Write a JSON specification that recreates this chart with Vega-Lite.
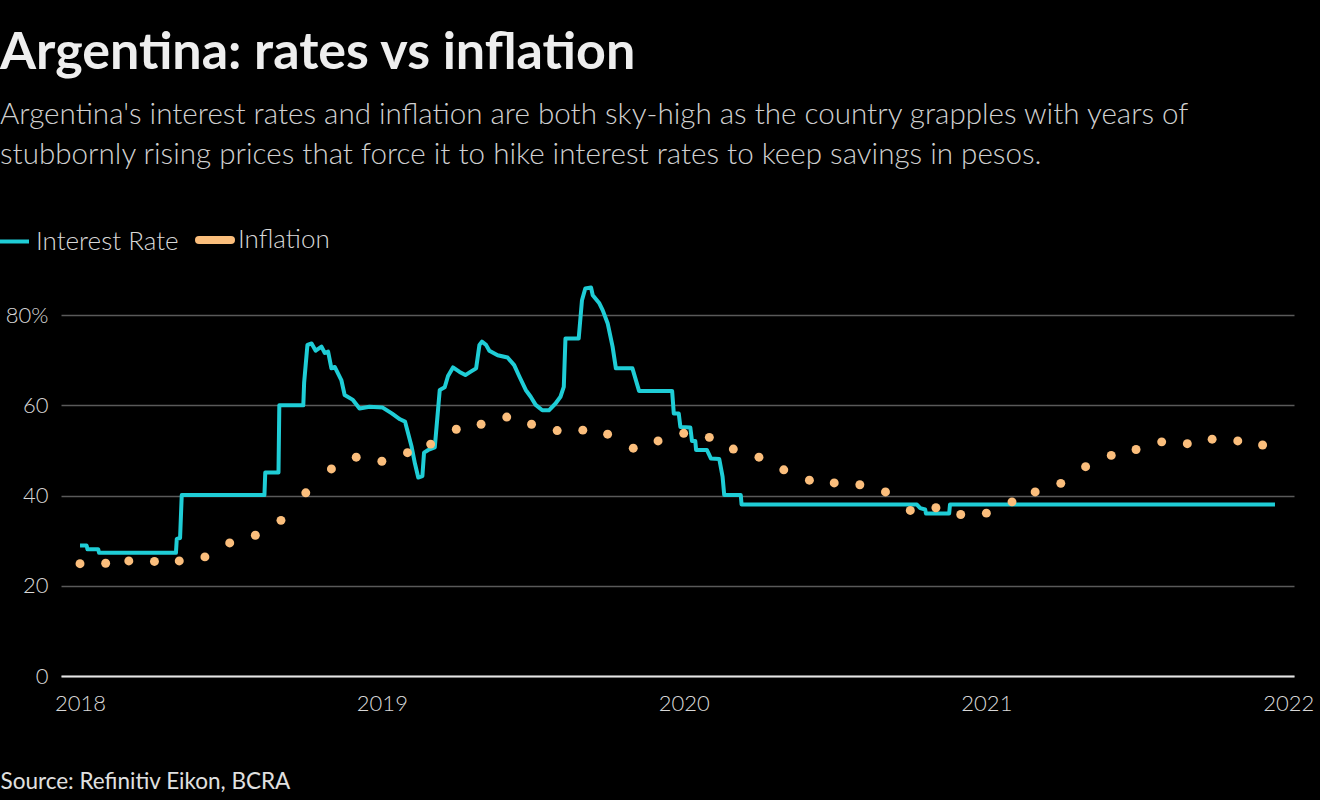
{
  "$schema": "https://vega.github.io/schema/vega-lite/v6.json",
  "width": 1233,
  "height": 397,
  "autosize": {"type": "none"},
  "padding": {"left": 61, "top": 279, "right": 26, "bottom": 124},
  "background": "#000000",
  "title": {
    "text": "Argentina: rates vs inflation",
    "subtitle": ["Argentina's interest rates and inflation are both sky-high as the country grapples with years of", "stubbornly rising prices that force it to hike interest rates to keep savings in pesos."],
    "anchor": "start",
    "frame": "group",
    "dx": -61,
    "offset": 56,
    "font": "Lato",
    "fontSize": 52,
    "fontWeight": "bold",
    "color": "#eeeeee",
    "subtitleFont": "Lato",
    "subtitleFontSize": 29.6,
    "subtitleFontWeight": 300,
    "subtitleColor": "#d0d0d0",
    "subtitlePadding": 21,
    "subtitleLineHeight": 40
  },
  "config": {
    "view": {"stroke": null},
    "font": "Lato"
  },
  "data": {
    "values": [
      {"date": "2018-01-01", "value": 28.9, "series": "Interest Rate"},
      {"date": "2018-01-09", "value": 28.9, "series": "Interest Rate"},
      {"date": "2018-01-10", "value": 28.1, "series": "Interest Rate"},
      {"date": "2018-01-23", "value": 28.1, "series": "Interest Rate"},
      {"date": "2018-01-24", "value": 27.3, "series": "Interest Rate"},
      {"date": "2018-04-27", "value": 27.3, "series": "Interest Rate"},
      {"date": "2018-04-28", "value": 30.4, "series": "Interest Rate"},
      {"date": "2018-05-02", "value": 30.6, "series": "Interest Rate"},
      {"date": "2018-05-04", "value": 40.1, "series": "Interest Rate"},
      {"date": "2018-08-12", "value": 40.1, "series": "Interest Rate"},
      {"date": "2018-08-13", "value": 45.1, "series": "Interest Rate"},
      {"date": "2018-08-29", "value": 45.1, "series": "Interest Rate"},
      {"date": "2018-08-30", "value": 60.0, "series": "Interest Rate"},
      {"date": "2018-09-28", "value": 60.0, "series": "Interest Rate"},
      {"date": "2018-09-29", "value": 65.0, "series": "Interest Rate"},
      {"date": "2018-10-03", "value": 73.4, "series": "Interest Rate"},
      {"date": "2018-10-08", "value": 73.7, "series": "Interest Rate"},
      {"date": "2018-10-13", "value": 72.1, "series": "Interest Rate"},
      {"date": "2018-10-20", "value": 73.0, "series": "Interest Rate"},
      {"date": "2018-10-24", "value": 71.6, "series": "Interest Rate"},
      {"date": "2018-10-28", "value": 71.9, "series": "Interest Rate"},
      {"date": "2018-11-01", "value": 68.2, "series": "Interest Rate"},
      {"date": "2018-11-05", "value": 68.5, "series": "Interest Rate"},
      {"date": "2018-11-13", "value": 65.6, "series": "Interest Rate"},
      {"date": "2018-11-17", "value": 62.3, "series": "Interest Rate"},
      {"date": "2018-11-27", "value": 61.2, "series": "Interest Rate"},
      {"date": "2018-12-05", "value": 59.3, "series": "Interest Rate"},
      {"date": "2018-12-17", "value": 59.7, "series": "Interest Rate"},
      {"date": "2019-01-02", "value": 59.5, "series": "Interest Rate"},
      {"date": "2019-01-13", "value": 58.2, "series": "Interest Rate"},
      {"date": "2019-01-23", "value": 56.9, "series": "Interest Rate"},
      {"date": "2019-01-29", "value": 56.4, "series": "Interest Rate"},
      {"date": "2019-02-06", "value": 50.8, "series": "Interest Rate"},
      {"date": "2019-02-10", "value": 47.1, "series": "Interest Rate"},
      {"date": "2019-02-14", "value": 44.0, "series": "Interest Rate"},
      {"date": "2019-02-19", "value": 44.3, "series": "Interest Rate"},
      {"date": "2019-02-21", "value": 49.5, "series": "Interest Rate"},
      {"date": "2019-02-26", "value": 50.1, "series": "Interest Rate"},
      {"date": "2019-03-06", "value": 50.7, "series": "Interest Rate"},
      {"date": "2019-03-12", "value": 63.4, "series": "Interest Rate"},
      {"date": "2019-03-18", "value": 64.0, "series": "Interest Rate"},
      {"date": "2019-03-22", "value": 66.5, "series": "Interest Rate"},
      {"date": "2019-03-28", "value": 68.4, "series": "Interest Rate"},
      {"date": "2019-04-05", "value": 67.4, "series": "Interest Rate"},
      {"date": "2019-04-12", "value": 66.7, "series": "Interest Rate"},
      {"date": "2019-04-18", "value": 67.4, "series": "Interest Rate"},
      {"date": "2019-04-25", "value": 68.2, "series": "Interest Rate"},
      {"date": "2019-04-29", "value": 73.4, "series": "Interest Rate"},
      {"date": "2019-05-02", "value": 74.1, "series": "Interest Rate"},
      {"date": "2019-05-07", "value": 73.4, "series": "Interest Rate"},
      {"date": "2019-05-11", "value": 72.1, "series": "Interest Rate"},
      {"date": "2019-05-21", "value": 71.1, "series": "Interest Rate"},
      {"date": "2019-06-02", "value": 70.6, "series": "Interest Rate"},
      {"date": "2019-06-10", "value": 68.9, "series": "Interest Rate"},
      {"date": "2019-06-16", "value": 66.5, "series": "Interest Rate"},
      {"date": "2019-06-24", "value": 63.4, "series": "Interest Rate"},
      {"date": "2019-06-30", "value": 61.9, "series": "Interest Rate"},
      {"date": "2019-07-06", "value": 60.1, "series": "Interest Rate"},
      {"date": "2019-07-14", "value": 58.9, "series": "Interest Rate"},
      {"date": "2019-07-22", "value": 58.9, "series": "Interest Rate"},
      {"date": "2019-07-30", "value": 60.4, "series": "Interest Rate"},
      {"date": "2019-08-05", "value": 61.9, "series": "Interest Rate"},
      {"date": "2019-08-09", "value": 64.1, "series": "Interest Rate"},
      {"date": "2019-08-11", "value": 74.8, "series": "Interest Rate"},
      {"date": "2019-08-27", "value": 74.8, "series": "Interest Rate"},
      {"date": "2019-08-31", "value": 83.3, "series": "Interest Rate"},
      {"date": "2019-09-04", "value": 85.9, "series": "Interest Rate"},
      {"date": "2019-09-11", "value": 86.1, "series": "Interest Rate"},
      {"date": "2019-09-13", "value": 84.4, "series": "Interest Rate"},
      {"date": "2019-09-21", "value": 82.6, "series": "Interest Rate"},
      {"date": "2019-09-25", "value": 81.1, "series": "Interest Rate"},
      {"date": "2019-10-01", "value": 78.2, "series": "Interest Rate"},
      {"date": "2019-10-07", "value": 73.0, "series": "Interest Rate"},
      {"date": "2019-10-11", "value": 68.2, "series": "Interest Rate"},
      {"date": "2019-10-31", "value": 68.2, "series": "Interest Rate"},
      {"date": "2019-11-08", "value": 63.2, "series": "Interest Rate"},
      {"date": "2019-12-18", "value": 63.2, "series": "Interest Rate"},
      {"date": "2019-12-20", "value": 58.2, "series": "Interest Rate"},
      {"date": "2019-12-26", "value": 58.2, "series": "Interest Rate"},
      {"date": "2019-12-28", "value": 55.2, "series": "Interest Rate"},
      {"date": "2020-01-09", "value": 55.1, "series": "Interest Rate"},
      {"date": "2020-01-11", "value": 52.1, "series": "Interest Rate"},
      {"date": "2020-01-15", "value": 52.1, "series": "Interest Rate"},
      {"date": "2020-01-16", "value": 50.1, "series": "Interest Rate"},
      {"date": "2020-01-29", "value": 50.1, "series": "Interest Rate"},
      {"date": "2020-02-03", "value": 48.2, "series": "Interest Rate"},
      {"date": "2020-02-13", "value": 48.1, "series": "Interest Rate"},
      {"date": "2020-02-17", "value": 44.2, "series": "Interest Rate"},
      {"date": "2020-02-19", "value": 40.1, "series": "Interest Rate"},
      {"date": "2020-03-10", "value": 40.1, "series": "Interest Rate"},
      {"date": "2020-03-11", "value": 38.0, "series": "Interest Rate"},
      {"date": "2020-10-09", "value": 38.0, "series": "Interest Rate"},
      {"date": "2020-10-13", "value": 37.2, "series": "Interest Rate"},
      {"date": "2020-10-19", "value": 36.9, "series": "Interest Rate"},
      {"date": "2020-10-20", "value": 36.0, "series": "Interest Rate"},
      {"date": "2020-11-17", "value": 36.0, "series": "Interest Rate"},
      {"date": "2020-11-18", "value": 38.0, "series": "Interest Rate"},
      {"date": "2021-12-16", "value": 38.0, "series": "Interest Rate"},
      {"date": "2018-01-01", "value": 24.9, "series": "Inflation"},
      {"date": "2018-02-01", "value": 25.0, "series": "Inflation"},
      {"date": "2018-03-01", "value": 25.5, "series": "Inflation"},
      {"date": "2018-04-01", "value": 25.4, "series": "Inflation"},
      {"date": "2018-05-01", "value": 25.5, "series": "Inflation"},
      {"date": "2018-06-01", "value": 26.4, "series": "Inflation"},
      {"date": "2018-07-01", "value": 29.5, "series": "Inflation"},
      {"date": "2018-08-01", "value": 31.2, "series": "Inflation"},
      {"date": "2018-09-01", "value": 34.5, "series": "Inflation"},
      {"date": "2018-10-01", "value": 40.6, "series": "Inflation"},
      {"date": "2018-11-01", "value": 45.9, "series": "Inflation"},
      {"date": "2018-12-01", "value": 48.5, "series": "Inflation"},
      {"date": "2019-01-01", "value": 47.6, "series": "Inflation"},
      {"date": "2019-02-01", "value": 49.5, "series": "Inflation"},
      {"date": "2019-03-01", "value": 51.4, "series": "Inflation"},
      {"date": "2019-04-01", "value": 54.7, "series": "Inflation"},
      {"date": "2019-05-01", "value": 55.8, "series": "Inflation"},
      {"date": "2019-06-01", "value": 57.4, "series": "Inflation"},
      {"date": "2019-07-01", "value": 55.8, "series": "Inflation"},
      {"date": "2019-08-01", "value": 54.4, "series": "Inflation"},
      {"date": "2019-09-01", "value": 54.5, "series": "Inflation"},
      {"date": "2019-10-01", "value": 53.6, "series": "Inflation"},
      {"date": "2019-11-01", "value": 50.5, "series": "Inflation"},
      {"date": "2019-12-01", "value": 52.1, "series": "Inflation"},
      {"date": "2020-01-01", "value": 53.8, "series": "Inflation"},
      {"date": "2020-02-01", "value": 52.9, "series": "Inflation"},
      {"date": "2020-03-01", "value": 50.3, "series": "Inflation"},
      {"date": "2020-04-01", "value": 48.5, "series": "Inflation"},
      {"date": "2020-05-01", "value": 45.7, "series": "Inflation"},
      {"date": "2020-06-01", "value": 43.4, "series": "Inflation"},
      {"date": "2020-07-01", "value": 42.8, "series": "Inflation"},
      {"date": "2020-08-01", "value": 42.4, "series": "Inflation"},
      {"date": "2020-09-01", "value": 40.8, "series": "Inflation"},
      {"date": "2020-10-01", "value": 36.7, "series": "Inflation"},
      {"date": "2020-11-01", "value": 37.3, "series": "Inflation"},
      {"date": "2020-12-01", "value": 35.8, "series": "Inflation"},
      {"date": "2021-01-01", "value": 36.1, "series": "Inflation"},
      {"date": "2021-02-01", "value": 38.6, "series": "Inflation"},
      {"date": "2021-03-01", "value": 40.8, "series": "Inflation"},
      {"date": "2021-04-01", "value": 42.7, "series": "Inflation"},
      {"date": "2021-05-01", "value": 46.4, "series": "Inflation"},
      {"date": "2021-06-01", "value": 48.9, "series": "Inflation"},
      {"date": "2021-07-01", "value": 50.2, "series": "Inflation"},
      {"date": "2021-08-01", "value": 51.9, "series": "Inflation"},
      {"date": "2021-09-01", "value": 51.5, "series": "Inflation"},
      {"date": "2021-10-01", "value": 52.5, "series": "Inflation"},
      {"date": "2021-11-01", "value": 52.1, "series": "Inflation"},
      {"date": "2021-12-01", "value": 51.2, "series": "Inflation"}
    ]
  },
  "encoding": {
    "x": {
      "field": "date",
      "type": "temporal",
      "scale": {"domain": ["2017-12-09", "2022-01-08"]},
      "axis": {
        "values": ["2018-01-01", "2019-01-01", "2020-01-01", "2021-01-01", "2022-01-01"],
        "format": "%Y",
        "grid": false,
        "ticks": false,
        "domain": true,
        "domainColor": "#e6e6e6",
        "domainWidth": 2,
        "labelFont": "Lato",
        "labelFontSize": 22,
        "labelFontWeight": 300,
        "labelColor": "#d8d8d8",
        "labelPadding": 17,
        "labelFlush": false,
        "title": "Source: Refinitiv Eikon, BCRA",
        "titleFont": "Lato",
        "titleFontSize": 22.5,
        "titleFontWeight": "normal",
        "titleColor": "#e0e0e0",
        "titleAnchor": "start",
        "titleAlign": "left",
        "titleBaseline": "alphabetic",
        "titleX": -61,
        "titleY": 112
      }
    },
    "y": {
      "field": "value",
      "type": "quantitative",
      "scale": {"domain": [0, 88], "nice": false},
      "axis": {
        "values": [0, 20, 40, 60, 80],
        "labelExpr": "datum.value == 80 ? '80%' : datum.label",
        "grid": true,
        "gridColor": "#5a5a5a",
        "gridWidth": 1.5,
        "ticks": false,
        "domain": false,
        "labelFont": "Lato",
        "labelFontSize": 22,
        "labelFontWeight": 300,
        "labelColor": "#d8d8d8",
        "labelPadding": 13,
        "title": null
      }
    },
    "color": {
      "field": "series",
      "type": "nominal",
      "scale": {"domain": ["Interest Rate", "Inflation"], "range": ["#1fcdd6", "#fbbe7c"]},
      "legend": {
        "title": null,
        "orient": "none",
        "direction": "horizontal",
        "legendX": -61,
        "legendY": -52,
        "symbolType": "stroke",
        "symbolSize": 1024,
        "symbolStrokeWidth": 4,
        "labelFont": "Lato",
        "labelFontSize": 26,
        "labelFontWeight": 300,
        "labelColor": "#d8d8d8",
        "labelOffset": 10,
        "columnPadding": 4,
        "encode": {
          "symbols": {
            "update": {
              "stroke": {"scale": "color", "field": "value"},
              "strokeWidth": {"signal": "datum.value == 'Inflation' ? 8 : 4"},
              "strokeCap": {"signal": "datum.value == 'Inflation' ? 'round' : 'butt'"}
            }
          }
        }
      }
    }
  },
  "layer": [
    {
      "transform": [{"filter": "datum.series == 'Interest Rate'"}],
      "mark": {"type": "line", "strokeWidth": 4, "strokeJoin": "round"}
    },
    {
      "transform": [{"filter": "datum.series == 'Inflation'"}],
      "mark": {"type": "point", "filled": true, "opacity": 1, "size": 80}
    }
  ]
}
